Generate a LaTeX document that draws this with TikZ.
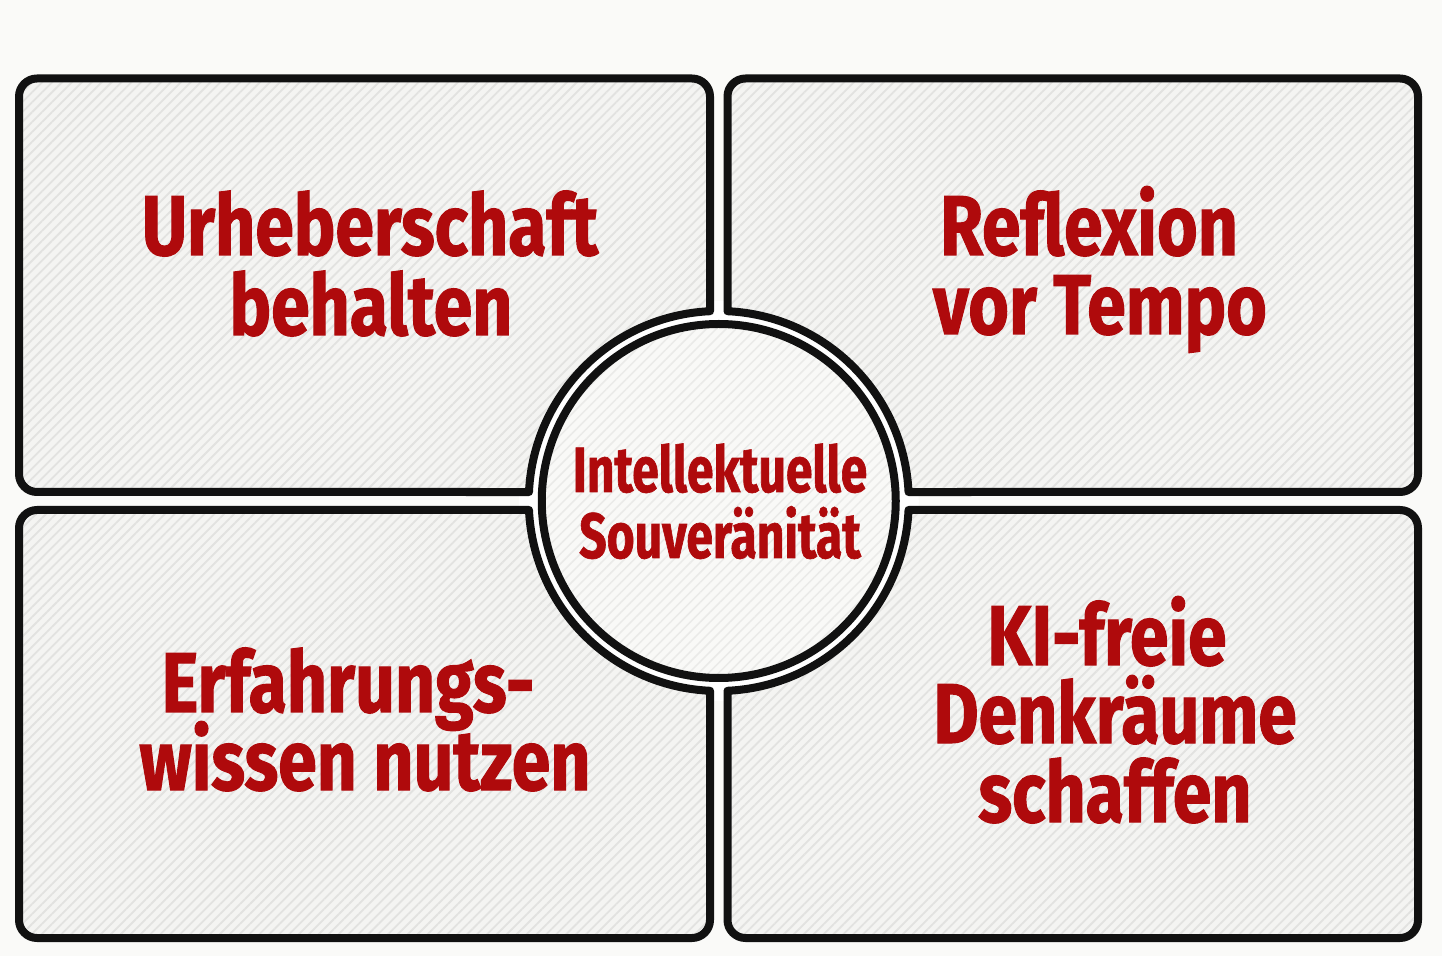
\documentclass[tikz,border=0pt]{standalone}
\usepackage{fontspec}
\newfontfamily\biglab{Fira Sans}[FakeStretch=0.82,FakeBold=1.2]
\newfontfamily\midlab{Fira Sans}[FakeStretch=0.75,FakeBold=1]
\usetikzlibrary{calc,patterns.meta}
\definecolor{bg}{HTML}{FAFAF8}
\definecolor{boxfill}{HTML}{F4F4F2}
\definecolor{hatch}{HTML}{E2E2E0}
\definecolor{circfill}{HTML}{F9F9F7}
\definecolor{circhatch}{HTML}{EAEAE8}
\definecolor{ink}{HTML}{111111}
\definecolor{txt}{HTML}{AF0A0C}
\tikzset{
  box/.style={draw=ink, line width=8pt, line join=round,
    preaction={fill=boxfill},
    pattern={Lines[angle=45,distance=7pt,line width=1.8pt]}, pattern color=hatch},
  ring/.style={draw=ink, line width=8pt,
    preaction={fill=circfill},
    pattern={Lines[angle=45,distance=7pt,line width=1.5pt]}, pattern color=circhatch},
  big/.style={text=txt, anchor=base, inner sep=0pt,
    font=\biglab\bfseries\fontsize{85}{85}\selectfont},
  mid/.style={text=txt, anchor=base, inner sep=0pt,
    font=\midlab\bfseries\fontsize{64}{64}\selectfont}
}
\begin{document}
\begin{tikzpicture}[x=1pt,y=1pt]
\useasboundingbox (0,0) rectangle (1442,956);
\fill[bg] (0,0) rectangle (1442,956);
\coordinate (C) at (718.75,455);
\def\R{190}
\fill[white] (C) circle[radius=200];
% four panels with a concave notch round the centre
\draw[box] ($(C)+(177.285:\R)$) -- (37,464) arc[start angle=270,end angle=180,radius=18]
  -- (19,859.5) arc[start angle=180,end angle=90,radius=18]
  -- (692,877.5) arc[start angle=90,end angle=0,radius=18]
  -- ($(C)+(92.64:\R)$) arc[start angle=92.64,end angle=177.285,radius=\R] -- cycle;
\draw[box] ($(C)+(87.36:\R)$) -- (727.5,859.5) arc[start angle=180,end angle=90,radius=18]
  -- (1400,877.5) arc[start angle=90,end angle=0,radius=18]
  -- (1418,482) arc[start angle=0,end angle=-90,radius=18]
  -- ($(C)+(2.715:\R)$) arc[start angle=2.715,end angle=87.36,radius=\R] -- cycle;
\draw[box] ($(C)+(182.715:\R)$) -- (37,446) arc[start angle=90,end angle=180,radius=18]
  -- (19,36) arc[start angle=180,end angle=270,radius=18]
  -- (692,18) arc[start angle=270,end angle=360,radius=18]
  -- ($(C)+(267.36:\R)$) arc[start angle=267.36,end angle=182.715,radius=\R] -- cycle;
\draw[box] ($(C)+(357.285:\R)$) -- (1400,446) arc[start angle=90,end angle=0,radius=18]
  -- (1418,36) arc[start angle=0,end angle=-90,radius=18]
  -- (745.5,18) arc[start angle=270,end angle=180,radius=18]
  -- ($(C)+(272.64:\R)$) arc[start angle=272.64,end angle=357.285,radius=\R] -- cycle;
% centre circle
\draw[ring] (C) circle[radius=177];
% labels
\node[big] (tl1) at (370,701) {Urheberschaft};
\node[big] (tl2) at (371,621) {behalten};
\node[big] (tr1) at (1089,701) {Reflexion};
\node[big] (tr2) at (1100,622) {vor Tempo};
\node[big] (bl1) at (348,244) {Erfahrungs-};
\node[big] (bl2) at (365,166) {wissen nutzen};
\node[big] (br1) at (1107,291) {KI-freie};
\node[big] (br2) at (1115,213) {Denkräume};
\node[big] (br3) at (1115,134) {schaffen};
\node[mid] (c1) at (720,464) {Intellektuelle};
\node[mid] (c2) at (720,398) {Souveränität};
\end{tikzpicture}
\end{document}
